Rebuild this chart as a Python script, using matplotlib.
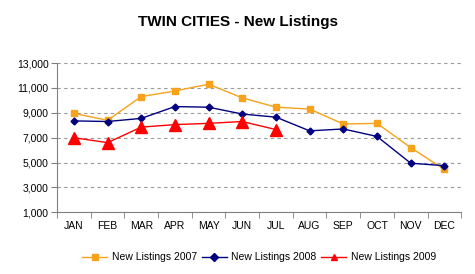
import numpy as np
import matplotlib
matplotlib.use('Agg')
import matplotlib.pyplot as plt

plt.rcParams['font.family'] = ['Liberation Sans', 'DejaVu Sans']

months = ['JAN', 'FEB', 'MAR', 'APR', 'MAY', 'JUN', 'JUL', 'AUG', 'SEP', 'OCT', 'NOV', 'DEC']
listings_2007 = [8950, 8400, 10300, 10750, 11300, 10200, 9450, 9300, 8100, 8150, 6200, 4450]
listings_2008 = [8350, 8300, 8550, 9500, 9450, 8900, 8650, 7550, 7700, 7100, 4950, 4750]
listings_2009 = [7000, 6600, 7850, 8050, 8150, 8300, 7650]
yticks = [1000, 3000, 5000, 7000, 9000, 11000, 13000]

fig = plt.figure(figsize=(4.75, 2.74), dpi=100, facecolor='w')
ax = fig.add_axes([0.12, 0.225, 0.851, 0.545])

x = np.arange(len(months))
ax.plot(x, listings_2007, color='#F7A21B', lw=1, marker='s', ms=4.5,
        label='New Listings 2007')
ax.plot(x, listings_2008, color='#000080', lw=1, marker='D', ms=3.5,
        label='New Listings 2008')
ax.plot(x[:len(listings_2009)], listings_2009, color='#FF0000', lw=1, marker='^', ms=8,
        label='New Listings 2009')

ax.set_xlim(-0.5, 11.5)
ax.set_ylim(1000, 13000)
ax.set_yticks(yticks)
ax.set_yticklabels(['{:,}'.format(v) for v in yticks], fontsize=7.5)
ax.set_xticks(x)
ax.set_xticklabels(months, fontsize=7.5)
ax.set_xticks(np.arange(-0.5, 12, 1), minor=True)
ax.tick_params(axis='x', which='major', length=0, pad=6)
ax.tick_params(axis='x', which='minor', length=4, color='#808080')
ax.tick_params(axis='y', length=4, color='#808080', pad=2)

ax.yaxis.grid(True, linestyle=(0, (3, 3)), color='#999999', lw=0.8)
ax.set_axisbelow(True)
for s in ['top', 'right']:
    ax.spines[s].set_visible(False)
for s in ['left', 'bottom']:
    ax.spines[s].set_color('#808080')

fig.text(0.5, 0.918, 'TWIN CITIES - New Listings', ha='center', va='center',
         fontsize=11, fontweight='bold')

leg = ax.legend(loc='center', bbox_to_anchor=(0.5, -0.30), ncol=3, frameon=False,
                fontsize=7.5, handlelength=2.4, columnspacing=0.5, handletextpad=0.4)
for h in leg.legend_handles:
    h.set_markersize(4)

fig.savefig('out.png', dpi=100)
